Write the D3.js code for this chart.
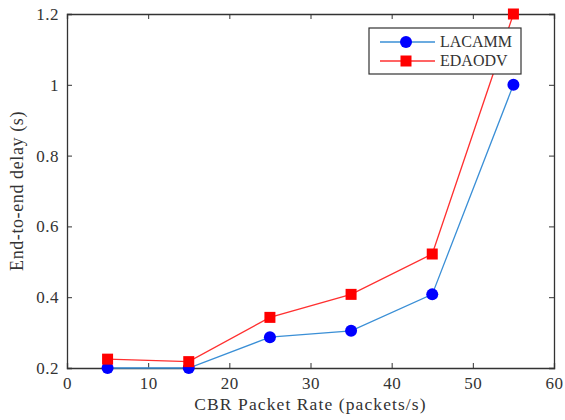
<!DOCTYPE html>
<html>
<head>
<meta charset="utf-8">
<script src="https://cdn.jsdelivr.net/npm/d3@7/dist/d3.min.js"></script>
<style>
  html, body { margin: 0; padding: 0; background: #fff; }
  svg text { font-family: "Liberation Serif", "DejaVu Serif", serif !important; fill: #333; }
</style>
</head>
<body>
<svg id="chart" width="565" height="420"></svg>
<script>
// CBR packet rate vs. end-to-end delay
const rates = [5, 15, 25, 35, 45, 55];
const lacamm = [0.2, 0.2, 0.287, 0.305, 0.408, 1.0];
const edaodv = [0.225, 0.218, 0.343, 0.408, 0.522, 1.2];
const xTicks = [0, 10, 20, 30, 40, 50, 60];
const yTicks = [0.2, 0.4, 0.6, 0.8, 1.0, 1.2];

const svg = d3.select("#chart");
const m = { left: 67, right: 11, top: 14, bottom: 52 };
const W = 565, H = 420;
const serif = '"Liberation Serif", "DejaVu Serif", serif';

const x = d3.scaleLinear().domain([0, 60]).range([m.left, W - m.right]);
const y = d3.scaleLinear().domain([0.2, 1.2]).range([H - m.bottom, m.top]);

const axisColor = "#333";
const fmt = d => (d === 1 ? "1" : d3.format(".1f")(d));

// Axes with inward ticks on all four sides
const gB = svg.append("g").attr("transform", `translate(0,${y(0.2)})`)
  .call(d3.axisBottom(x).tickValues(xTicks).tickSize(-5).tickPadding(9).tickFormat(d3.format("d")));
const gT = svg.append("g").attr("transform", `translate(0,${y(1.2)})`)
  .call(d3.axisTop(x).tickValues(xTicks).tickSize(-5).tickFormat(""));
const gL = svg.append("g").attr("transform", `translate(${x(0)},0)`)
  .call(d3.axisLeft(y).tickValues(yTicks).tickSize(-5).tickPadding(8).tickFormat(fmt));
const gR = svg.append("g").attr("transform", `translate(${x(60)},0)`)
  .call(d3.axisRight(y).tickValues(yTicks).tickSize(-5).tickFormat(""));

[gB, gT, gL, gR].forEach(g => {
  g.attr("font-family", serif);
  g.select(".domain").attr("stroke", axisColor).attr("stroke-width", 1.3);
  g.selectAll(".tick line").attr("stroke", axisColor);
  g.selectAll(".tick text").style("font-size", "17px").style("letter-spacing", "0.5px").attr("fill", "#333");
});

// Axis titles
svg.append("text")
  .attr("x", (x(0) + x(60)) / 2).attr("y", 410)
  .attr("text-anchor", "middle").style("font-size", "17.5px").style("letter-spacing", "1.1px")
  .text("CBR Packet Rate (packets/s)");
svg.append("text")
  .attr("transform", `translate(23,${(y(0.2) + y(1.2)) / 2}) rotate(-90)`)
  .attr("text-anchor", "middle").style("font-size", "18px").style("letter-spacing", "0.6px")
  .text("End-to-end delay (s)");

const line = d3.line().x((d, i) => x(rates[i])).y(d => y(d));

const series = [
  { name: "LACAMM", values: lacamm, lineColor: "#3a8fd6", markColor: "#0000ff", shape: "circle" },
  { name: "EDAODV", values: edaodv, lineColor: "#ff3030", markColor: "#ff0000", shape: "square" }
];

function drawMark(g, shape, color, cx, cy) {
  if (shape === "circle") {
    g.append("circle").attr("cx", cx).attr("cy", cy).attr("r", 6).attr("fill", color);
  } else {
    g.append("rect").attr("x", cx - 5.5).attr("y", cy - 5.5)
      .attr("width", 11).attr("height", 11).attr("fill", color);
  }
}

series.forEach(s => {
  svg.append("path").datum(s.values)
    .attr("d", line).attr("fill", "none")
    .attr("stroke", s.lineColor).attr("stroke-width", 1.3);
  const g = svg.append("g");
  s.values.forEach((v, i) => drawMark(g, s.shape, s.markColor, x(rates[i]), y(v)));
});

// Legend
const lg = svg.append("g");
lg.append("rect").attr("x", 369).attr("y", 28).attr("width", 152).attr("height", 46)
  .attr("fill", "#fff").attr("stroke", "#333").attr("stroke-width", 1.2);
series.forEach((s, i) => {
  const ly = 42 + i * 19;
  lg.append("line").attr("x1", 380).attr("x2", 435).attr("y1", ly).attr("y2", ly)
    .attr("stroke", s.lineColor).attr("stroke-width", 1.3);
  drawMark(lg, s.shape, s.markColor, 406, ly);
  lg.append("text").attr("x", 440).attr("y", ly + 5).style("font-size", "16px").text(s.name);
});
</script>
</body>
</html>
